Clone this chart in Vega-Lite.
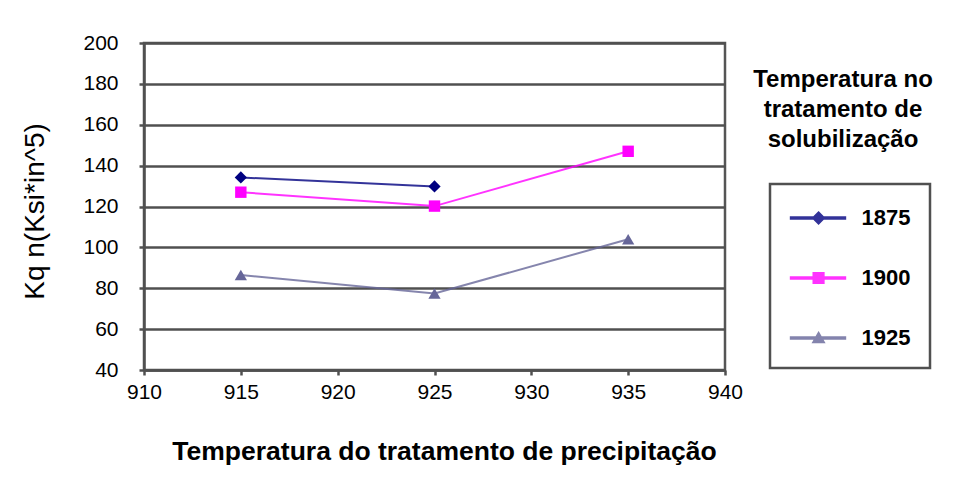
{
  "$schema": "https://vega.github.io/schema/vega-lite/v6.json",
  "width": 581,
  "height": 327,
  "autosize": {"type": "none"},
  "padding": {"left": 144, "top": 43, "right": 235, "bottom": 117},
  "background": "white",
  "title": {
    "text": ["Temperatura no", "tratamento de", "solubilização"],
    "anchor": "end",
    "frame": "group",
    "align": "center",
    "baseline": "alphabetic",
    "dx": 118,
    "dy": 139,
    "offset": 0,
    "font": "Liberation Sans",
    "fontSize": 24,
    "fontWeight": "bold",
    "lineHeight": 30,
    "color": "#000000"
  },
  "data": {
    "values": [
      {"series": "1875", "temp": 915, "value": 134.2},
      {"series": "1875", "temp": 925, "value": 129.8},
      {"series": "1900", "temp": 915, "value": 127},
      {"series": "1900", "temp": 925, "value": 120.2},
      {"series": "1900", "temp": 935, "value": 147},
      {"series": "1925", "temp": 915, "value": 86.5},
      {"series": "1925", "temp": 925, "value": 77.4},
      {"series": "1925", "temp": 935, "value": 104}
    ]
  },
  "encoding": {
    "x": {
      "field": "temp",
      "type": "quantitative",
      "scale": {"domain": [910, 940], "nice": false, "zero": false},
      "axis": {
        "title": "Temperatura do tratamento de precipitação",
        "values": [910, 915, 920, 925, 930, 935, 940],
        "format": "d",
        "grid": false,
        "labelFlush": false,
        "labelPadding": 6,
        "titlePadding": 36,
        "titleX": 300,
        "titleFontSize": 26.5
      }
    },
    "y": {
      "field": "value",
      "type": "quantitative",
      "scale": {"domain": [40, 200], "nice": false, "zero": false},
      "axis": {
        "title": "Kq n(Ksi*in^5)",
        "values": [40, 60, 80, 100, 120, 140, 160, 180, 200],
        "grid": true,
        "labelPadding": 21,
        "titlePadding": 33,
        "titleFontSize": 28,
        "titleFontWeight": "normal",
        "titleY": 168
      }
    },
    "color": {
      "field": "series",
      "type": "nominal",
      "scale": {"domain": ["1875", "1900", "1925"], "range": ["#000080", "#FF00FF", "#666699"]},
      "legend": {
        "title": null,
        "orient": "none",
        "legendX": 626,
        "legendY": 141,
        "padding": 19,
        "strokeColor": "#505050",
        "symbolSize": 784,
        "rowPadding": 34,
        "labelOffset": 42.5,
        "labelFont": "Liberation Sans",
        "labelFontSize": 22,
        "labelFontWeight": "bold",
        "labelColor": "#000000"
      }
    }
  },
  "layer": [
    {
      "mark": {"type": "line", "strokeWidth": 2, "opacity": 0.8}
    },
    {
      "transform": [{"filter": "datum.series === '1875'"}],
      "mark": {"type": "point", "filled": true, "opacity": 1, "size": 150, "shape": "diamond"}
    },
    {
      "transform": [{"filter": "datum.series === '1900'"}],
      "mark": {"type": "point", "filled": true, "opacity": 1, "size": 130, "shape": "square"}
    },
    {
      "transform": [{"filter": "datum.series === '1925'"}],
      "mark": {"type": "point", "filled": true, "opacity": 1, "size": 150, "shape": "triangle-up"}
    },
    {
      "transform": [{"filter": "false"}],
      "mark": {"type": "point", "filled": true, "opacity": 1},
      "encoding": {
        "shape": {
          "field": "series",
          "type": "nominal",
          "scale": {
            "domain": ["1875", "1900", "1925"],
            "range": [
              "M-0.96,-0.07H2.96V0.07H-0.96ZM1.04,-0.42L1.46,0L1.04,0.42L0.62,0Z",
              "M-0.96,-0.07H2.96V0.07H-0.96ZM0.66,-0.38H1.42V0.38H0.66Z",
              "M-0.96,-0.07H2.96V0.07H-0.96ZM1.04,-0.4L1.45,0.32H0.63Z"
            ]
          }
        }
      }
    }
  ],
  "config": {
    "view": {"stroke": "#555555", "strokeWidth": 2.5},
    "legend": {"strokeWidth": 2.5},
    "axis": {
      "labelFont": "Liberation Sans",
      "labelFontSize": 21,
      "labelColor": "#000000",
      "titleFont": "Liberation Sans",
      "titleFontSize": 25,
      "titleFontWeight": "bold",
      "titleColor": "#000000",
      "tickSize": 5,
      "tickColor": "#505050",
      "tickWidth": 2.5,
      "domainColor": "#505050",
      "domainWidth": 2.5,
      "gridColor": "#505050",
      "gridWidth": 2.5,
      "gridOpacity": 1
    }
  }
}
